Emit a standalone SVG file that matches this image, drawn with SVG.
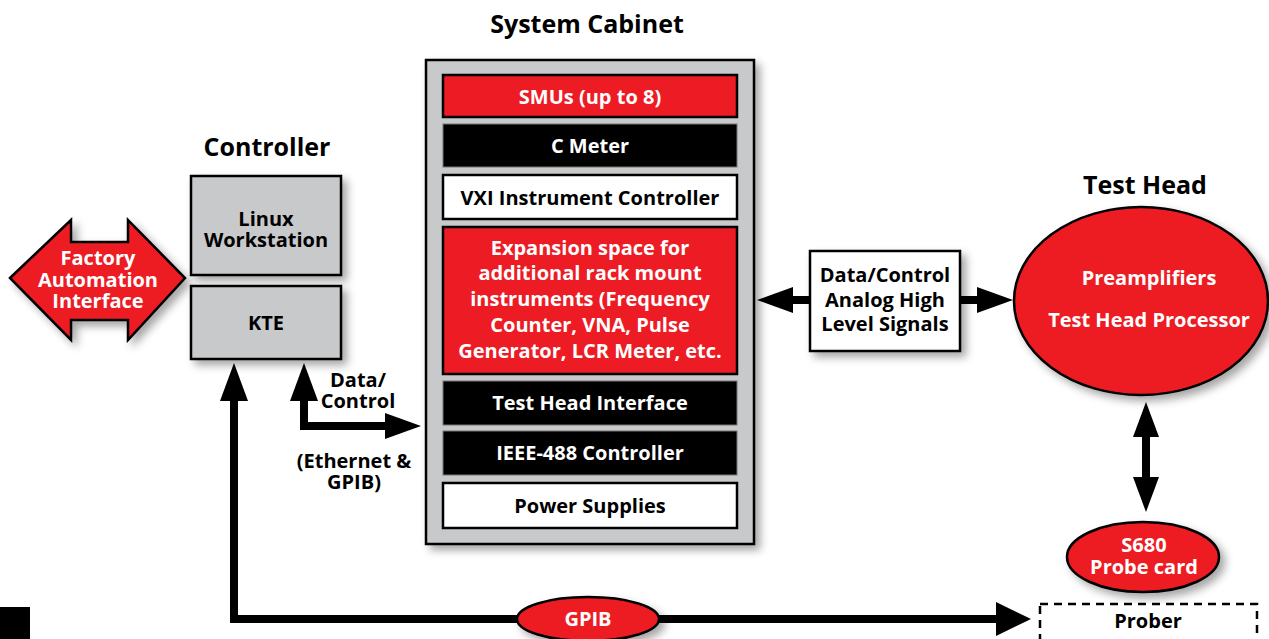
<svg xmlns="http://www.w3.org/2000/svg" width="1269" height="639" viewBox="0 0 1269 639">
<defs>
<filter id="sh" x="-20%" y="-20%" width="140%" height="140%">
<feDropShadow dx="5" dy="5" stdDeviation="4" flood-color="#000" flood-opacity="0.35"/>
</filter>
<style>
text{font-family:"Open Sans","Liberation Sans",sans-serif;font-weight:700;text-anchor:middle}
.t{font-size:25px;fill:#000}
.w{fill:#fff;font-size:20px}
.b{fill:#000;font-size:20px}
.red{fill:#ed1c24;stroke:#000;stroke-width:2.5}
.blk{fill:#000;stroke:#777;stroke-width:1}
.wht{fill:#fff;stroke:#000;stroke-width:2.5}
.gry{fill:#c8c9cb;stroke:#000;stroke-width:2.5}
.ln{stroke:#000;stroke-width:8;fill:none}
</style>
</defs>
<rect width="1269" height="639" fill="#fff"/>
<rect x="0" y="607" width="30" height="32" fill="#000"/>

<text class="t" x="587" y="33">System Cabinet</text>
<text class="t" x="267" y="156">Controller</text>
<text class="t" x="1145" y="194">Test Head</text>

<g id="factory">
<polygon class="red" filter="url(#sh)" points="10,278 71,220 71,242 128,242 128,220 185,278 128,340 128,320 71,320 71,340"/>
<text class="w" x="98" y="265">Factory</text>
<text class="w" x="98" y="287">Automation</text>
<text class="w" x="98" y="308">Interface</text>
</g>

<g id="linux">
<rect class="gry" filter="url(#sh)" x="191" y="176" width="150" height="99"/>
<text class="b" x="266" y="226">Linux</text>
<text class="b" x="266" y="247">Workstation</text>
</g>
<g id="kte">
<rect class="gry" filter="url(#sh)" x="191" y="286" width="150" height="73"/>
<text class="b" x="266" y="330">KTE</text>
</g>

<g id="cabinet">
<rect class="gry" filter="url(#sh)" x="426" y="60" width="328" height="484"/>
<rect class="red" x="443" y="75" width="294" height="42"/>
<text class="w" x="590" y="104">SMUs (up to 8)</text>
<rect class="blk" x="443" y="124" width="294" height="43"/>
<text class="w" x="590" y="153">C Meter</text>
<rect class="wht" x="443" y="175" width="294" height="44"/>
<text class="b" x="590" y="205">VXI Instrument Controller</text>
<rect class="red" x="443" y="227" width="294" height="147"/>
<text class="w" x="590" y="255">Expansion space for</text>
<text class="w" x="590" y="280">additional rack mount</text>
<text class="w" x="590" y="306">instruments (Frequency</text>
<text class="w" x="590" y="332">Counter, VNA, Pulse</text>
<text class="w" x="590" y="358">Generator, LCR Meter, etc.</text>
<rect class="blk" x="443" y="381" width="294" height="44"/>
<text class="w" x="590" y="410">Test Head Interface</text>
<rect class="blk" x="443" y="431" width="294" height="44"/>
<text class="w" x="590" y="460">IEEE-488 Controller</text>
<rect class="wht" x="443" y="483" width="294" height="45"/>
<text class="b" x="590" y="513">Power Supplies</text>
</g>

<g id="datactl">
<rect class="wht" filter="url(#sh)" x="810" y="251" width="150" height="100"/>
<text class="b" x="885" y="282">Data/Control</text>
<text class="b" x="885" y="307">Analog High</text>
<text class="b" x="885" y="331">Level Signals</text>
</g>

<g id="testhead">
<ellipse class="red" filter="url(#sh)" cx="1141" cy="301" rx="127" ry="94"/>
<text class="w" x="1149" y="285">Preamplifiers</text>
<text class="w" x="1149" y="327">Test Head Processor</text>
</g>

<g id="probecard">
<ellipse class="red" filter="url(#sh)" cx="1143" cy="557" rx="76" ry="35"/>
<text class="w" x="1144" y="552">S680</text>
<text class="w" x="1144" y="574">Probe card</text>
</g>

<g id="prober">
<rect x="1040" y="604" width="217" height="40" fill="#fff" stroke="#000" stroke-width="2.5" stroke-dasharray="8,6"/>
<text class="b" x="1148" y="628">Prober</text>
</g>

<g id="connectors">
<path class="ln" d="M234,400 V619 H1000"/>
<polygon points="234,363 220,401 248,401"/>
<polygon points="1031,619 996,602 996,636"/>
<path class="ln" d="M304,398 V426 H388"/>
<polygon points="304,363 290,401 318,401"/>
<polygon points="421,426 385,413 385,439"/>
<path class="ln" d="M792,300 H810 M960,300 H978"/>
<polygon points="757,300 793,287 793,313"/>
<polygon points="1013,300 977,287 977,313"/>
<path class="ln" d="M1146,435 V480"/>
<polygon points="1146,402 1133,437 1159,437"/>
<polygon points="1146,512 1133,477 1159,477"/>
<g id="gpib">
<ellipse class="red" filter="url(#sh)" cx="588" cy="619" rx="71" ry="22"/>
<text class="w" x="588" y="626">GPIB</text>
</g>
<text class="b" x="358" y="387">Data/</text>
<text class="b" x="358" y="408">Control</text>
<text class="b" x="354" y="468">(Ethernet &amp;</text>
<text class="b" x="354" y="489">GPIB)</text>
</g>
</svg>
